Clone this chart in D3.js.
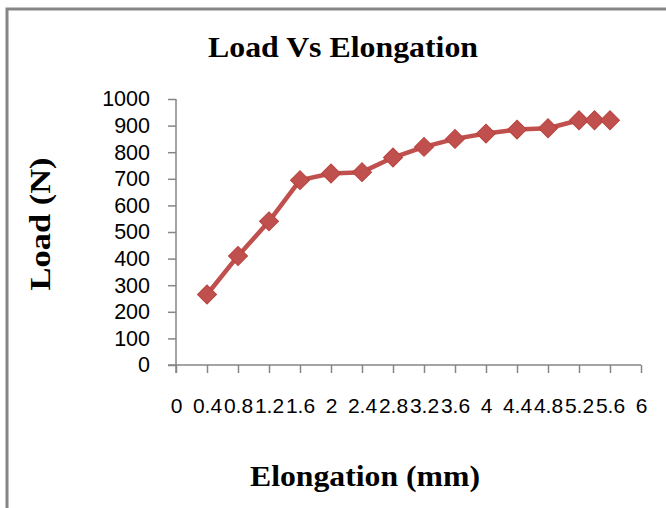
<!DOCTYPE html>
<html>
<head>
<meta charset="utf-8">
<script src="https://cdn.jsdelivr.net/npm/d3@7"></script>
<style>
  html, body { margin: 0; padding: 0; background: #fff; }
  svg { display: block; }
</style>
</head>
<body>
<svg id="chart" width="666" height="508"></svg>
<script>
// Data
const elongation = [0.4, 0.8, 1.2, 1.6, 2.0, 2.4, 2.8, 3.2, 3.6, 4.0, 4.4, 4.8, 5.2, 5.4, 5.6];
const load = [265, 410, 540, 695, 720, 725, 780, 820, 850, 870, 885, 890, 920, 920, 920];
const xTicks = [0, 0.4, 0.8, 1.2, 1.6, 2, 2.4, 2.8, 3.2, 3.6, 4, 4.4, 4.8, 5.2, 5.6, 6];
const yTicks = [0, 100, 200, 300, 400, 500, 600, 700, 800, 900, 1000];

const svg = d3.select("#chart");
const axisColor = "#868686";
const seriesColor = "#C0504D";

// Outer frame (extends beyond the visible window)
svg.append("rect")
  .attr("x", 7).attr("y", 9)
  .attr("width", 700).attr("height", 540)
  .attr("fill", "none")
  .attr("stroke", axisColor)
  .attr("stroke-width", 3);

const x = d3.scaleLinear().domain([0, 6]).range([176, 641]);
const y = d3.scaleLinear().domain([0, 1000]).range([365, 99]);

// Y axis
const yAxis = d3.axisLeft(y).tickValues(yTicks).tickSize(8).tickSizeOuter(0).tickPadding(18)
  .tickFormat(d3.format("d"));
const gy = svg.append("g").attr("transform", `translate(${x(0)},0)`).call(yAxis);
gy.select(".domain").attr("stroke", axisColor).attr("stroke-width", 1.5)
  .attr("d", `M0,${y(0) + 8}V${y(1000)}`);
gy.selectAll(".tick line").attr("stroke", axisColor).attr("stroke-width", 1.5);
gy.selectAll(".tick text")
  .attr("font-family", "'Liberation Sans', Arial, sans-serif")
  .attr("font-size", 21.5).attr("fill", "#000");

// X axis
const xAxis = d3.axisBottom(x).tickValues(xTicks).tickSize(8).tickSizeOuter(0).tickPadding(25)
  .tickFormat(d => String(+d.toFixed(1)));
const gx = svg.append("g").attr("transform", `translate(0,${y(0)})`).call(xAxis);
gx.select(".domain").attr("stroke", axisColor).attr("stroke-width", 1.5)
  .attr("d", `M${x(0) - 8},0H${x(6)}`);
gx.selectAll(".tick line").attr("stroke", axisColor).attr("stroke-width", 1.5);
gx.selectAll(".tick text")
  .attr("font-family", "'Liberation Sans', Arial, sans-serif")
  .attr("font-size", 21).attr("fill", "#000");

// Line
const pts = elongation.map((e, i) => [e, load[i]]);
svg.append("path")
  .datum(pts)
  .attr("fill", "none")
  .attr("stroke", seriesColor)
  .attr("stroke-width", 4.5)
  .attr("stroke-linejoin", "round")
  .attr("d", d3.line().x(d => x(d[0])).y(d => y(d[1])));

// Diamond markers
const diamond = d3.symbol().type(d3.symbolSquare).size(180);
svg.append("g").selectAll("path")
  .data(pts)
  .join("path")
  .attr("d", diamond)
  .attr("transform", d => `translate(${x(d[0])},${y(d[1])}) rotate(45)`)
  .attr("fill", seriesColor)
  .attr("stroke", "#B9423F")
  .attr("stroke-width", 1);

// Titles
const serif = "'Liberation Serif', 'Times New Roman', serif";
svg.append("text")
  .attr("x", 343).attr("y", 57)
  .attr("text-anchor", "middle")
  .attr("font-family", serif).attr("font-weight", "bold")
  .attr("font-size", 29)
  .attr("textLength", 270).attr("lengthAdjust", "spacingAndGlyphs")
  .text("Load Vs Elongation");

svg.append("text")
  .attr("x", 365).attr("y", 486)
  .attr("text-anchor", "middle")
  .attr("font-family", serif).attr("font-weight", "bold")
  .attr("font-size", 29)
  .attr("textLength", 230).attr("lengthAdjust", "spacingAndGlyphs")
  .text("Elongation (mm)");

svg.append("text")
  .attr("transform", "translate(50,224) rotate(-90)")
  .attr("text-anchor", "middle")
  .attr("font-family", serif).attr("font-weight", "bold")
  .attr("font-size", 29)
  .attr("textLength", 133).attr("lengthAdjust", "spacingAndGlyphs")
  .text("Load (N)");
</script>
</body>
</html>
